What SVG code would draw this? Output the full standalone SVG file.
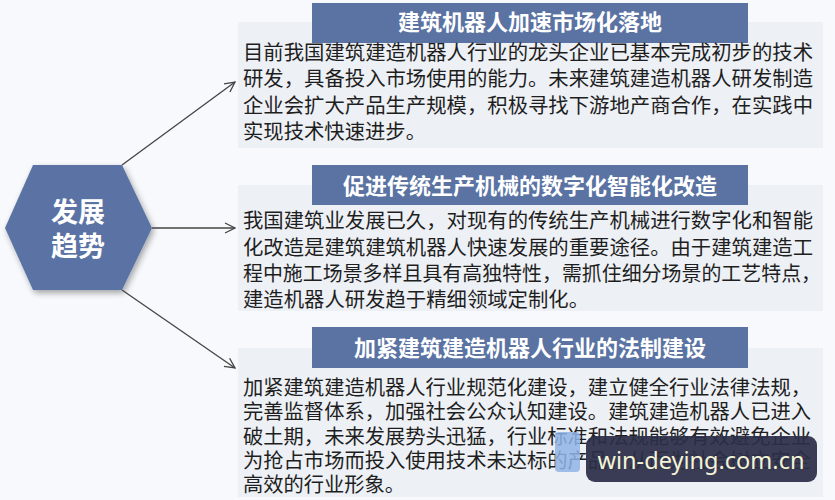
<svg xmlns="http://www.w3.org/2000/svg" width="835" height="500" viewBox="0 0 835 500">
<defs>
<marker id="arr" viewBox="0 0 12 12" refX="11" refY="6" markerWidth="12" markerHeight="12" markerUnits="userSpaceOnUse" orient="auto">
<polyline points="1,1 11,6 1,11" fill="none" stroke="#444" stroke-width="1.3"/>
</marker>
<filter id="sh" x="-20%" y="-20%" width="140%" height="140%">
<feGaussianBlur in="SourceAlpha" stdDeviation="3"/>
<feOffset dx="2" dy="3" result="b"/>
<feComponentTransfer><feFuncA type="linear" slope="0.35"/></feComponentTransfer>
<feMerge><feMergeNode/><feMergeNode in="SourceGraphic"/></feMerge>
</filter>
</defs>
<style>
.bg{fill:#edf0f5}
.bar{fill:#5a73a3}
.ttl{font-family:"Noto Sans CJK SC","Liberation Sans",sans-serif;font-size:22px;font-weight:bold;fill:#fff;text-anchor:middle}
.body{font-family:"Noto Sans CJK SC","Liberation Sans",sans-serif;font-size:20px;fill:#1e1e1e}
.hex{font-family:"Noto Sans CJK SC","Liberation Sans",sans-serif;font-size:27px;font-weight:bold;fill:#fff;text-anchor:middle}
.conn{stroke:#444;stroke-width:1.3;fill:none}
</style>
<rect width="835" height="500" fill="#f7f9fc"/>

<g id="hub">
<polygon points="5,228 33,165 122,165 152,228 122,290 33,290" fill="#5a73a4" filter="url(#sh)"/>
<text class="hex" x="78" y="222">发展</text>
<text class="hex" x="78" y="256">趋势</text>
</g>

<g id="connectors">
<line class="conn" x1="122" y1="165" x2="235" y2="82" marker-end="url(#arr)"/>
<line class="conn" x1="152" y1="228" x2="235" y2="228" marker-end="url(#arr)"/>
<line class="conn" x1="122" y1="290" x2="235" y2="368" marker-end="url(#arr)"/>
</g>

<g id="panel1">
<rect class="bg" x="238" y="22" width="585" height="126"/>
<rect class="bar" x="312" y="3" width="436" height="40"/>
<text class="ttl" x="530" y="30">建筑机器人加速市场化落地</text>
<text class="body" x="243" y="60" textLength="570" lengthAdjust="spacingAndGlyphs">目前我国建筑建造机器人行业的龙头企业已基本完成初步的技术</text>
<text class="body" x="243" y="86" textLength="570" lengthAdjust="spacingAndGlyphs">研发，具备投入市场使用的能力。未来建筑建造机器人研发制造</text>
<text class="body" x="243" y="113" textLength="570" lengthAdjust="spacingAndGlyphs">企业会扩大产品生产规模，积极寻找下游地产商合作，在实践中</text>
<text class="body" x="243" y="139" textLength="183" lengthAdjust="spacingAndGlyphs">实现技术快速进步。</text>
</g>

<g id="panel2">
<rect class="bg" x="238" y="185" width="585" height="126"/>
<rect class="bar" x="312" y="165" width="436" height="40"/>
<text class="ttl" x="530" y="194">促进传统生产机械的数字化智能化改造</text>
<text class="body" x="243" y="228" textLength="570" lengthAdjust="spacingAndGlyphs">我国建筑业发展已久，对现有的传统生产机械进行数字化和智能</text>
<text class="body" x="243" y="255" textLength="570" lengthAdjust="spacingAndGlyphs">化改造是建筑建筑机器人快速发展的重要途径。由于建筑建造工</text>
<text class="body" x="243" y="281" textLength="578" lengthAdjust="spacingAndGlyphs">程中施工场景多样且具有高独特性，需抓住细分场景的工艺特点，</text>
<text class="body" x="243" y="307" textLength="346" lengthAdjust="spacingAndGlyphs">建造机器人研发趋于精细领域定制化。</text>
</g>

<g id="panel3">
<rect class="bg" x="238" y="348" width="585" height="149"/>
<rect class="bar" x="312" y="327" width="436" height="41"/>
<text class="ttl" x="530" y="356">加紧建筑建造机器人行业的法制建设</text>
<text class="body" x="243" y="395" textLength="568" lengthAdjust="spacingAndGlyphs">加紧建筑建造机器人行业规范化建设，建立健全行业法律法规，</text>
<text class="body" x="243" y="419" textLength="568" lengthAdjust="spacingAndGlyphs">完善监督体系，加强社会公众认知建设。建筑建造机器人已进入</text>
<text class="body" x="243" y="444" textLength="568" lengthAdjust="spacingAndGlyphs">破土期，未来发展势头迅猛，行业标准和法规能够有效避免企业</text>
<text class="body" x="243" y="468" textLength="568" lengthAdjust="spacingAndGlyphs">为抢占市场而投入使用技术未达标的产品，从而为社会树立安全</text>
<text class="body" x="243" y="492" textLength="162" lengthAdjust="spacingAndGlyphs">高效的行业形象。</text>
</g>

<g id="watermark">
<rect x="555" y="432" width="25" height="40" rx="4" fill="#8fb4e6" opacity="0.85"/>
<rect x="586" y="436" width="231" height="46" rx="9" fill="#2b2e47" opacity="0.93"/>
<text x="701" y="469" text-anchor="middle" font-family="'Noto Sans','Open Sans',sans-serif" font-size="24" fill="#f4f3d8" textLength="207" lengthAdjust="spacingAndGlyphs">win-deying.com.cn</text>
</g>
</svg>
